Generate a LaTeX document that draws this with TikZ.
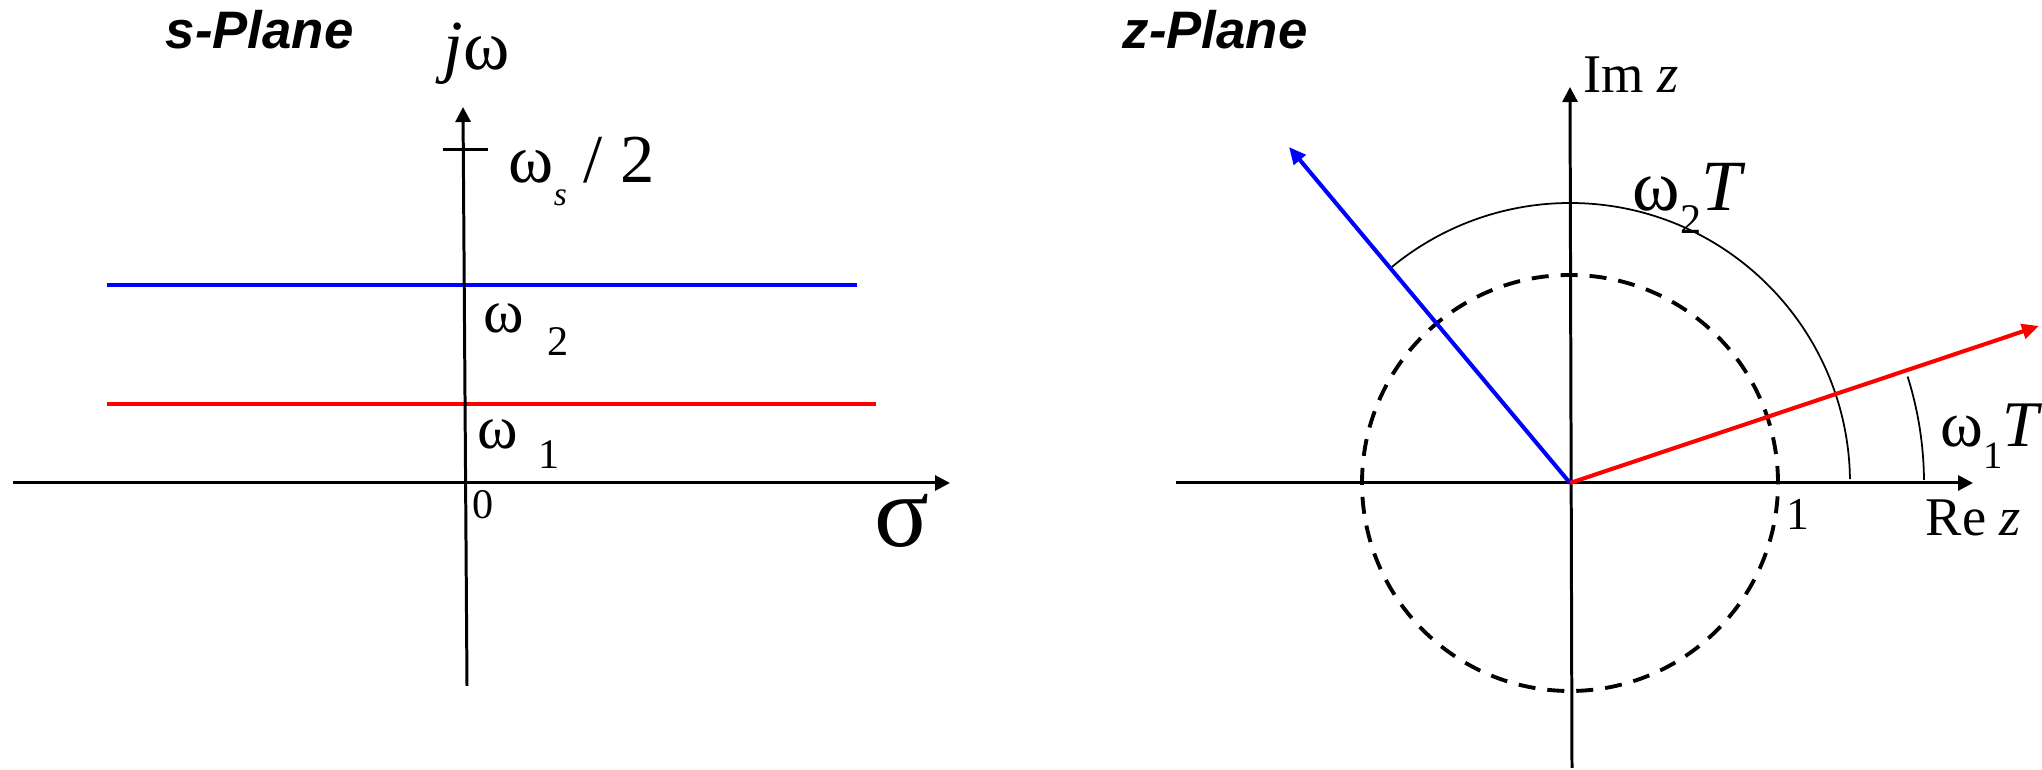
\documentclass[tikz,border=0pt]{standalone}
\usepackage{fontspec}
\setmainfont{Liberation Serif}
\newfontfamily\titlefont{Liberation Sans}
\usetikzlibrary{arrows.meta}
\newcommand\myfs[1]{\fontsize{#1}{#1}\selectfont}
\tikzset{
  axisline/.style={line width=0.85pt},
  axisarrow/.style={line width=0.85pt,-{Triangle[length=0.15cm,width=0.15cm]}},
  freqline/.style={line width=1.15pt},
  vecarrow/.style={line width=1.15pt,-{Triangle[length=0.17cm,width=0.15cm]}},
  thinarc/.style={line width=0.5pt},
  unitcircle/.style={line width=1.1pt,dash pattern=on 0.17cm off 0.12cm},
  lbl/.style={inner sep=0pt,anchor=base west},
  titletext/.style={inner sep=0pt,anchor=base west,font=\titlefont\bfseries\itshape\myfs{15}}
}
\begin{document}
\begin{tikzpicture}[x=0.01cm,y=0.01cm]
\useasboundingbox (0,0) rectangle (2042,770);
% ---------- s-plane ----------
\coordinate (sVtop) at (463,663);
\coordinate (sVbot) at (467,84);
\coordinate (sHl) at (13,287);
\coordinate (sHr) at (950,287);
\coordinate (tickL) at (443,620);
\coordinate (tickR) at (488,620);
\coordinate (b1) at (107,485);
\coordinate (b2) at (857,485);
\coordinate (r1) at (107,366);
\coordinate (r2) at (876,366);
\draw[freqline,blue] (b1) -- (b2);
\draw[freqline,red] (r1) -- (r2);
\draw[axisarrow] (sHl) -- (sHr);
\draw[axisarrow] (sVbot) -- (sVtop);
\draw[axisline] (tickL) -- (tickR);
\node[titletext] (stitle) at (165,721) {s-Plane};
\node[lbl] (jw) at (443,700) {\myfs{20}\textit{j}ω};
\node[lbl] (ws) at (508,587) {\myfs{19.5}ω\raisebox{-0.22cm}{\myfs{9.5}\itshape s} / 2};
\node[lbl] (w2) at (483,437) {\myfs{17.5}ω\hspace{0.23cm}\raisebox{-0.22cm}{\myfs{12}2}};
\node[lbl] (w1) at (477,321) {\myfs{17.5}ω\hspace{0.2cm}\raisebox{-0.19cm}{\myfs{12}1}};
\node[lbl] (zero) at (472,251) {\myfs{12}0};
\node[lbl] (sigma) at (874,223) {\myfs{29}σ};
% ---------- z-plane ----------
\coordinate (O) at (1570,287);
\coordinate (imB) at (1572,2);
\coordinate (imT) at (1570,683);
\coordinate (reL) at (1176,287);
\coordinate (reR) at (1973,287);
\coordinate (bt) at (1289,623);
\coordinate (rt) at (2039,444);
\draw[unitcircle] (O) circle[radius=208];
\path (O) ++(0.8:280) coordinate (a2s);
\draw[thinarc] (a2s) arc[start angle=0.8,end angle=130,radius=280];
\path (O) ++(0.5:354) coordinate (a1s);
\draw[thinarc] (a1s) arc[start angle=0.5,end angle=17.5,radius=354];
\draw[axisarrow] (reL) -- (reR);
\draw[axisarrow] (imB) -- (imT);
\draw[vecarrow,blue] (O) -- (bt);
\draw[vecarrow,red] (O) -- (rt);
\node[titletext] (ztitle) at (1122,721) {z-Plane};
\node[lbl] (imz) at (1583,677) {\myfs{15.5}Im \textit{z}};
\node[lbl] (rez) at (1925,234) {\myfs{15.5}Re \textit{z}};
\node[inner sep=0pt,anchor=base] (one) at (1798,240) {\myfs{13}1};
\node[lbl] (w2T) at (1632,559) {\myfs{20.5}ω\raisebox{-0.22cm}{\myfs{12}2}\textit{T}};
\node[lbl] (w1T) at (1940,323) {\myfs{18.5}ω\raisebox{-0.21cm}{\myfs{11}1}\textit{T}};
\end{tikzpicture}
\end{document}
